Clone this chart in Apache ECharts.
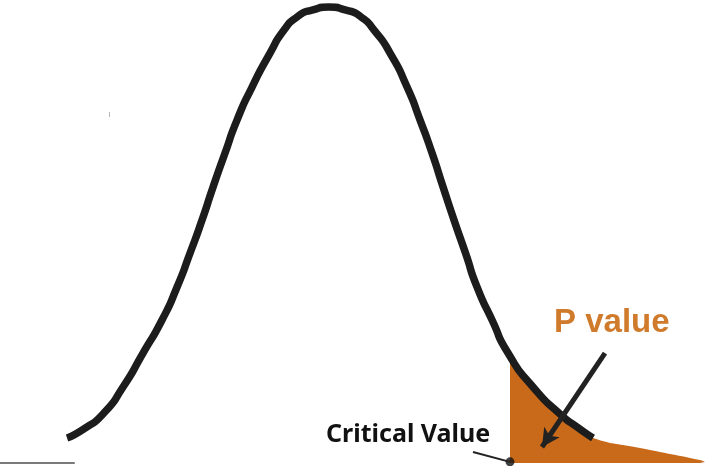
<!DOCTYPE html>
<html>
<head>
<meta charset="utf-8">
<script src="https://cdn.jsdelivr.net/npm/echarts@6/dist/echarts.min.js"></script>
<style>
  html, body { margin: 0; padding: 0; background: #fff; }
  #main { width: 714px; height: 466px; }
</style>
</head>
<body>
<div id="main"></div>
<script>
// bell curve (z units, relative density)
const curveZ = [-2.287, -2.130, -1.974, -1.800, -1.626, -1.461, -1.330, -1.217, -1.113, -1.017, -0.913, -0.809,
  -0.678, -0.522, -0.400, -0.287, -0.157, -0.009, 0.139, 0.270, 0.383, 0.522, 0.670, 0.783, 0.887, 0.983,
  1.078, 1.178, 1.278, 1.409, 1.548, 1.765, 2.000, 2.148, 2.287];
const curveDensity = [0.022, 0.0308, 0.0432, 0.067, 0.0969, 0.126, 0.1551, 0.185, 0.2141, 0.2432, 0.2731, 0.3022,
  0.3313, 0.3612, 0.3815, 0.393, 0.3991, 0.4018, 0.3991, 0.393, 0.3815, 0.3612, 0.3313, 0.3022, 0.2731, 0.2432,
  0.2141, 0.185, 0.1551, 0.126, 0.0969, 0.067, 0.0432, 0.0317, 0.022];

// shaded p-value tail
const tailZ = [1.565, 1.765, 2.000, 2.148, 2.287, 2.696, 3.217, 3.26];
const tailDensity = [0.0952, 0.067, 0.0432, 0.0317, 0.022, 0.0132, 0.0026, 0.0009];

const criticalZ = 1.565;
const criticalLabel = 'Critical Value';
const pLabel = 'P value';

// arrows: [from, to]
const pArrow = [[2.391, 0.0969], [1.843, 0.0141]];
const critPointer = [[1.243, 0.0097], [criticalZ, 0.001]];
const stubZ = [-2.87, -2.22];

const pair = (xs, ys) => xs.map((x, i) => [x, ys[i]]);

const chart = echarts.init(document.getElementById('main'));

const option = {
  backgroundColor: '#ffffff',
  animation: false,
  grid: { left: 0, right: 0, top: 0, bottom: 3 },
  xAxis: { type: 'value', min: -2.87, max: 3.339, show: false },
  yAxis: { type: 'value', min: 0, max: 0.408, show: false },
  series: [
    {
      name: 'tail',
      type: 'line',
      data: pair(tailZ, tailDensity),
      smooth: 0.5,
      symbol: 'none',
      lineStyle: { width: 0 },
      areaStyle: { color: '#c96a1b', opacity: 1 },
      z: 1
    },
    {
      name: 'stub',
      type: 'line',
      data: stubZ.map(z => [z, 0]),
      symbol: 'none',
      lineStyle: { color: '#7a7a7a', width: 2 },
      z: 1
    },
    {
      name: 'curve',
      type: 'line',
      data: pair(curveZ, curveDensity),
      smooth: 0.7,
      symbol: 'none',
      lineStyle: { color: '#1c1c1c', width: 7.5 },
      z: 2
    },
    {
      name: 'critical',
      type: 'scatter',
      data: [[criticalZ, 0.001]],
      symbolSize: 9,
      itemStyle: { color: '#111' },
      z: 3,
      markLine: {
        silent: true,
        label: { show: false },
        data: [
          [
            { coord: critPointer[0], symbol: 'none', lineStyle: { color: '#222', width: 2, type: 'solid' } },
            { coord: critPointer[1], symbol: 'none' }
          ],
          [
            { coord: pArrow[0], symbol: 'none', lineStyle: { color: '#222', width: 5, type: 'solid' } },
            { coord: pArrow[1], symbol: 'arrow', symbolSize: [14, 18] }
          ]
        ]
      }
    }
  ],
  graphic: [
    {
      type: 'text',
      left: 326,
      top: 422,
      style: {
        text: criticalLabel,
        font: 'bold 25px "Noto Sans"',
        fill: '#111'
      }
    },
    {
      type: 'text',
      left: 554,
      top: 306,
      style: {
        text: pLabel,
        font: 'bold 33px "Liberation Sans"',
        fill: '#d07a2c'
      }
    },
    {
      type: 'rect',
      shape: { x: 109, y: 112, width: 1, height: 5 },
      style: { fill: '#b5b5b5' }
    }
  ]
};

chart.setOption(option);
</script>
</body>
</html>
